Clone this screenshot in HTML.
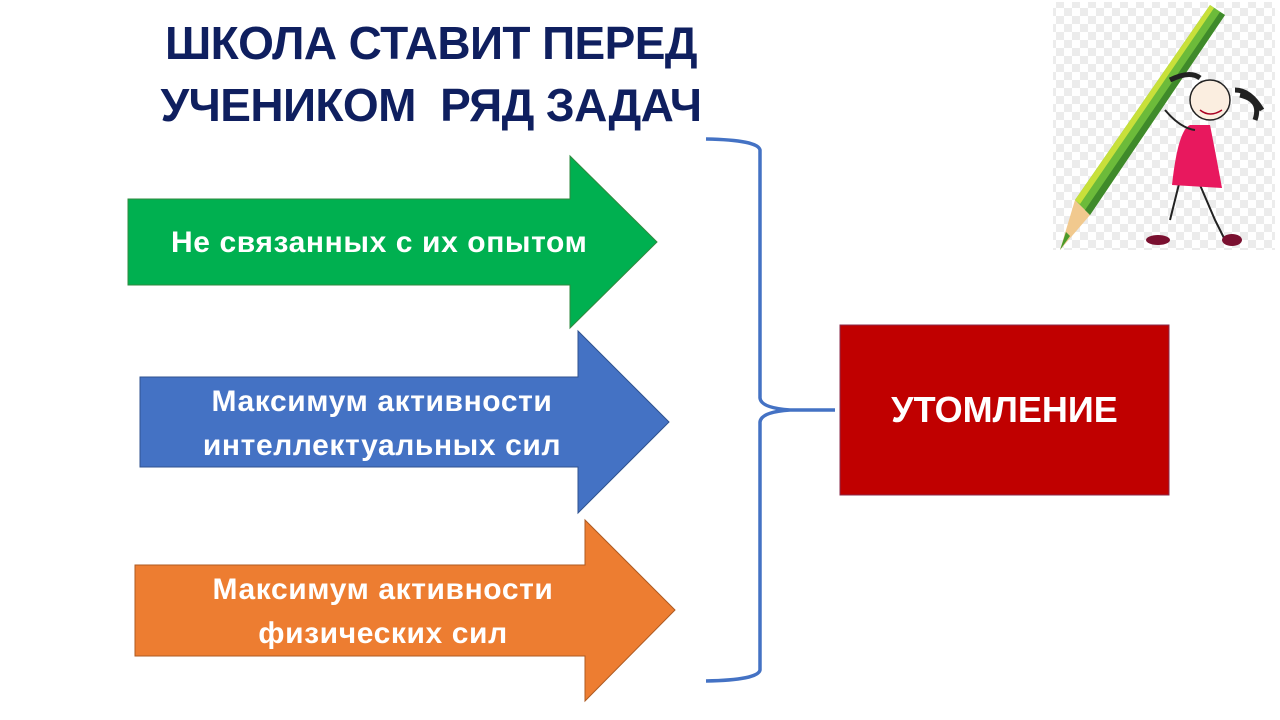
<!DOCTYPE html>
<html><head><meta charset="utf-8"><style>
body{margin:0;width:1280px;height:720px;background:#fff;overflow:hidden;position:relative;font-family:"Liberation Sans",sans-serif}
.t{position:absolute;left:131px;width:600px;text-align:center;color:#0f1f5f;font-weight:bold;font-size:46px;letter-spacing:-0.6px}
.lbl{position:absolute;color:#fff;font-weight:bold;font-size:30px;text-align:center;line-height:44px;letter-spacing:0.6px;white-space:nowrap}
</style></head><body>
<div class="t" style="top:16px">ШКОЛА СТАВИТ ПЕРЕД</div>
<div class="t" style="top:78px">УЧЕНИКОМ&nbsp; РЯД ЗАДАЧ</div>
<svg width="1280" height="720" style="position:absolute;left:0;top:0">
<defs><pattern id="ck" width="16" height="16" patternUnits="userSpaceOnUse"><rect width="16" height="16" fill="#fff"/><rect width="8" height="8" fill="#ececec"/><rect x="8" y="8" width="8" height="8" fill="#ececec"/></pattern></defs>
<rect x="1053" y="2" width="222" height="248" fill="url(#ck)"/>
<polygon points="1060,250 1075,200 1090,215" fill="#f1c98e"/>
<polygon points="1060,250 1066,232 1070,236" fill="#4a9a2a"/>
<polygon points="1075,200 1210,5 1225,15 1090,215" fill="#6cbb3a"/>
<polygon points="1075,200 1210,5 1214,8 1080,204" fill="#c8e03a"/>
<polygon points="1085,210 1220,12 1225,15 1090,215" fill="#3f8a2a"/>
<path d="M1170,220 L1180,180 M1200,185 L1215,220 L1225,240" stroke="#222" stroke-width="2" fill="none"/>
<ellipse cx="1158" cy="240" rx="12" ry="5" fill="#7a1030"/>
<ellipse cx="1232" cy="240" rx="10" ry="6" fill="#7a1030"/>
<path d="M1190,125 Q1178,130 1172,185 L1222,188 Q1215,150 1210,125 Z" fill="#e8185e"/>
<circle cx="1210" cy="100" r="20" fill="#fbeee0" stroke="#222" stroke-width="1.5"/>
<path d="M1170,80 Q1190,70 1200,78 M1240,95 Q1262,100 1255,120 M1235,90 Q1250,90 1262,110" stroke="#222" stroke-width="5" fill="none"/>
<path d="M1200,110 Q1210,118 1222,110" stroke="#a02" stroke-width="1.5" fill="none"/>
<path d="M1165,110 Q1180,128 1195,130" stroke="#222" stroke-width="2" fill="none"/>
<polygon points="128,199 570,199 570,156 657,242 570,328 570,285 128,285" fill="#00b050" stroke="#2f8a3f" stroke-width="1"/>
<polygon points="140,377 578,377 578,331 669,422 578,513 578,467 140,467" fill="#4472c4" stroke="#2f528f" stroke-width="1"/>
<polygon points="135,565 585,565 585,520 675,610 585,701 585,656 135,656" fill="#ed7d31" stroke="#ae5a21" stroke-width="1"/>
<path d="M706,139 Q758,140 760,150 L760,398 Q761,408 790,410 L835,410 M790,410 Q761,412 760,422 L760,670 Q758,680 706,681" stroke="#4472c4" stroke-width="3.5" fill="none"/>
<rect x="840" y="325" width="329" height="170" fill="#c00000" stroke="#8a2a4a" stroke-width="1"/>
</svg>
<div class="lbl" style="left:171px;width:400px;top:221px">Не связанных с их опытом</div>
<div class="lbl" style="left:182px;width:400px;top:380px">Максимум активности<br>интеллектуальных сил</div>
<div class="lbl" style="left:183px;width:400px;top:568px">Максимум активности<br>физических сил</div>
<div class="lbl" style="left:840px;width:329px;top:388px;font-size:36px;letter-spacing:0">УТОМЛЕНИЕ</div>
</body></html>
